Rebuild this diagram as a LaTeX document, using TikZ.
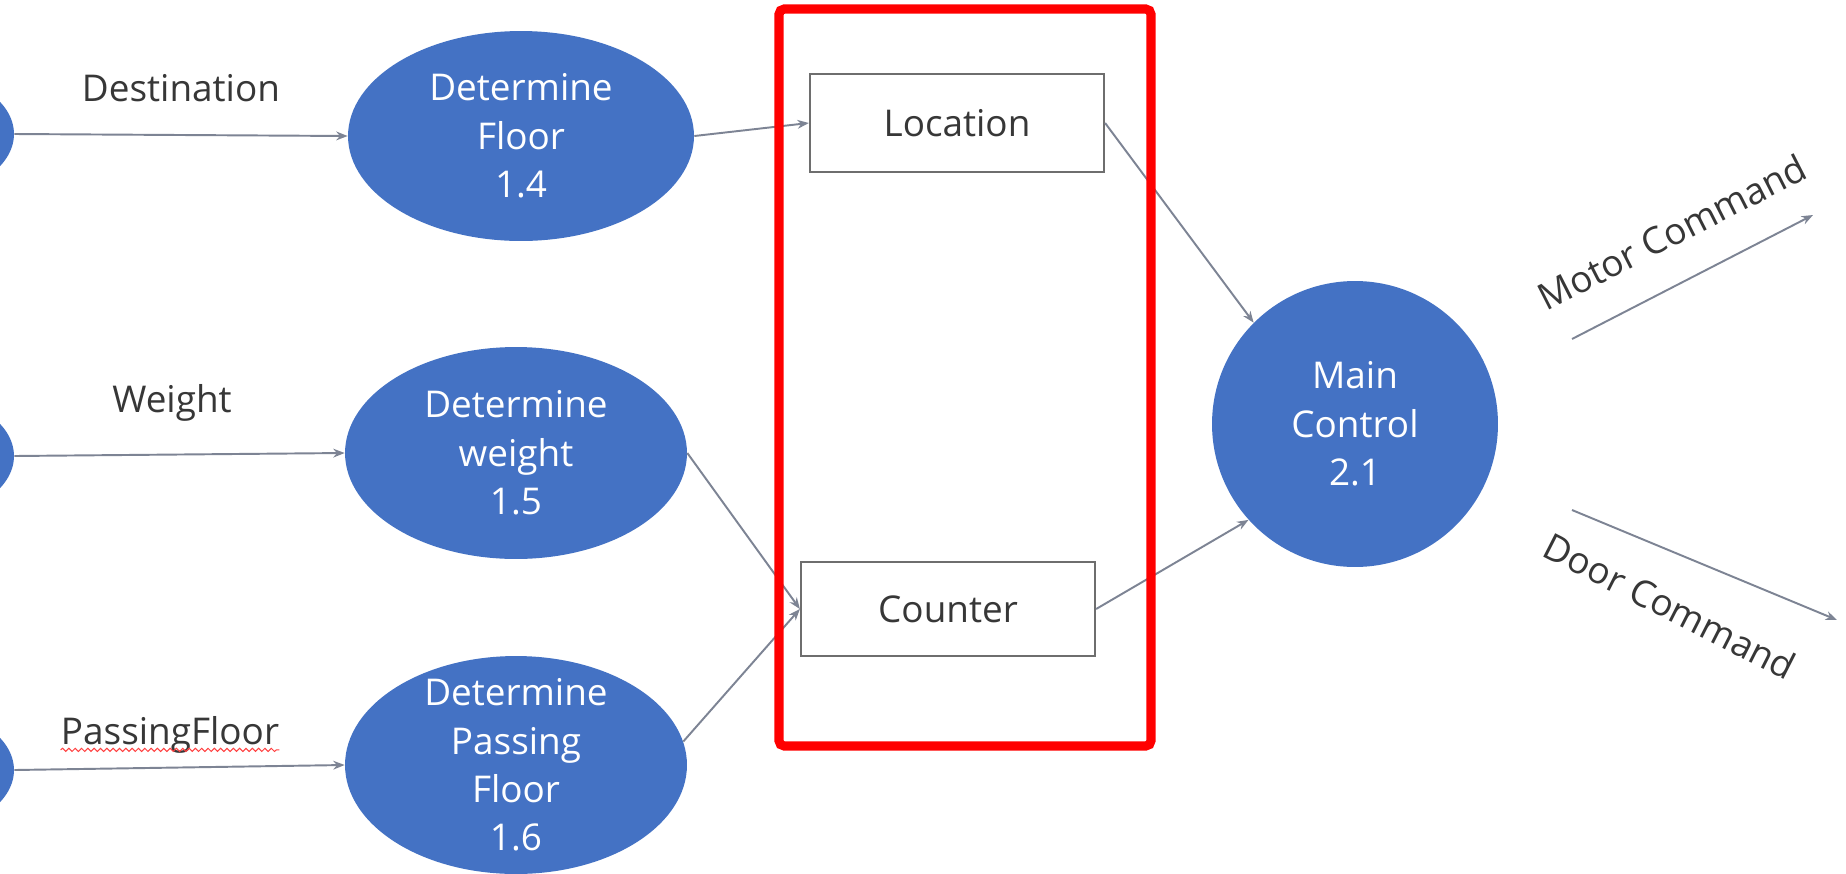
\documentclass[tikz,border=0pt]{standalone}
\usepackage{fontspec}
\setmainfont{Open Sans}
\usetikzlibrary{arrows.meta,shapes.geometric,decorations.pathmorphing}

\definecolor{procblue}{HTML}{4472C4}
\definecolor{flowgray}{RGB}{125,132,148}
\definecolor{boxgray}{RGB}{110,110,110}
\definecolor{txtgray}{RGB}{55,55,55}
\definecolor{framered}{RGB}{255,0,0}

\tikzset{
  every node/.style={font=\fontsize{21}{27.5}\selectfont},
  proc/.style={ellipse, fill=procblue, draw=none, inner sep=0pt},
  proctext/.style={text=white, align=center, inner sep=0pt},
  store/.style={rectangle, draw=boxgray, line width=1.3pt, fill=white,
    minimum width=5.88cm, text=txtgray, inner sep=0pt},
  flowlabel/.style={text=txtgray, inner sep=0pt},
  flow/.style={draw=flowgray, line width=1.1pt,
    -{Stealth[length=6.5pt,width=5pt]}},
  redframe/.style={draw=framered, line width=5.2pt, rounded corners=3pt}
}

\begin{document}
\begin{tikzpicture}[x=0.02cm, y=-0.02cm]
  \useasboundingbox (0,0) rectangle (1846,873);
  \fill[white] (0,0) rectangle (1846,873);

  % external entities, cut at the left edge
  \begin{scope}
    \clip (0,0) rectangle (1846,873);
    \node[proc, minimum width=4cm, minimum height=2.52cm] (src1) at (-86,134) {};
    \node[proc, minimum width=4cm, minimum height=2.52cm] (src2) at (-86,456) {};
    \node[proc, minimum width=4cm, minimum height=2.52cm] (src3) at (-86,770) {};

    % processes
    \node[proc, minimum width=6.92cm, minimum height=4.2cm] (p14) at (521,136) {};
    \node[proctext] (p14t) at (p14) {Determine\\Floor\\1.4};
    \node[proc, minimum width=6.84cm, minimum height=4.24cm] (p15) at (516,453) {};
    \node[proctext] (p15t) at (p15) {Determine\\weight\\1.5};
    \node[proc, minimum width=6.84cm, minimum height=4.36cm] (p16) at (516,765) {};
    \node[proctext] (p16t) at (p16) {Determine\\Passing\\Floor\\1.6};
  \end{scope}

  \node[proc, minimum size=5.72cm] (main) at (1355,424) {};
  \node[proctext] (maint) at (main) {Main\\Control\\2.1};

  % data stores
  \node[store, minimum height=1.96cm] (loc) at (957,123) {Location};
  \node[store, minimum height=1.88cm] (cnt) at (948,609) {Counter};

  % input flows and their labels
  \draw[flow] (src1.east) -- (p14.west);
  \draw[flow] (src2.east) -- (p15.west);
  \draw[flow] (src3.east) -- (p16.west);
  \node[flowlabel] (ldest) at (181,88) {Destination};
  \node[flowlabel] (lweight) at (172,403) {Weight};
  \node[flowlabel] (lpass) at (170,735) {PassingFloor};
  \draw[red!75, line width=0.6pt, decorate,
    decoration={snake, amplitude=0.9pt, segment length=3.6pt}]
    ([yshift=-3pt]lpass.base west) -- ([yshift=-3pt]lpass.base east);

  % internal flows
  \draw[flow] (p14.east) -- (loc.west);
  \draw[flow] (p15.east) -- (cnt.west);
  \draw[flow] (p16.8) -- (cnt.west);
  \draw[flow] (loc.east) -- (main.135);
  \draw[flow] (cnt.east) -- (main.222);

  % output flows
  \coordinate (motorA) at (1572,339);
  \coordinate (motorB) at (1813,215);
  \coordinate (doorA) at (1572,510);
  \coordinate (doorB) at (1837,620);
  \draw[flow] (motorA) -- (motorB);
  \draw[flow] (doorA) -- (doorB);
  \node[flowlabel, rotate=27] (lmotor) at (1672,232) {Motor Command};
  \node[flowlabel, rotate=-27] (ldoor) at (1670,606) {Door Command};

  % highlight frame around the data stores
  \draw[redframe] (779,9) rectangle (1151,746);
\end{tikzpicture}
\end{document}
